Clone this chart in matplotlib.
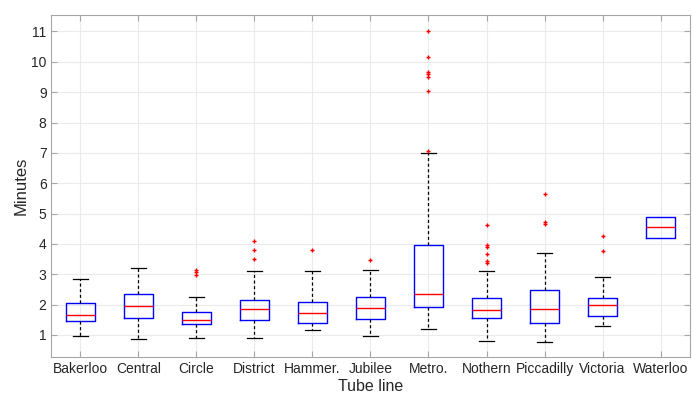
import matplotlib
matplotlib.use("Agg")
import matplotlib.pyplot as plt

plt.rcParams['font.family'] = ['Liberation Sans', 'DejaVu Sans']

lines = ['Bakerloo', 'Central', 'Circle', 'District', 'Hammer.', 'Jubilee',
         'Metro.', 'Nothern', 'Piccadilly', 'Victoria', 'Waterloo']
q1 = [1.47, 1.57, 1.35, 1.49, 1.38, 1.53, 1.91, 1.55, 1.38, 1.62, 4.20]
med = [1.65, 1.94, 1.48, 1.85, 1.73, 1.88, 2.34, 1.83, 1.87, 1.98, 4.55]
q3 = [2.06, 2.35, 1.77, 2.16, 2.09, 2.24, 3.95, 2.23, 2.47, 2.23, 4.88]
whislo = [0.96, 0.86, 0.90, 0.90, 1.15, 0.98, 1.20, 0.81, 0.78, 1.31, 4.20]
whishi = [2.83, 3.20, 2.24, 3.11, 3.12, 3.15, 7.00, 3.11, 3.71, 2.90, 4.88]
fliers = [
    [],
    [],
    [3.13, 3.09, 2.99],
    [4.10, 3.79, 3.49],
    [3.79],
    [3.47],
    [11.0, 10.15, 9.65, 9.60, 9.50, 9.05, 7.06],
    [4.62, 3.95, 3.89, 3.68, 3.44, 3.38],
    [5.65, 4.71, 4.66],
    [4.26, 3.77],
    [],
]

stats = []
for i in range(len(lines)):
    stats.append(dict(q1=q1[i], med=med[i], q3=q3[i], whislo=whislo[i],
                      whishi=whishi[i], fliers=fliers[i], label=lines[i]))

fig = plt.figure(figsize=(6.92, 3.95), dpi=100)
ax = fig.add_axes([0.0744, 0.096, 0.922, 0.865])

bp = ax.bxp(stats, widths=0.5,
            boxprops=dict(color='#0000ff', linewidth=1.0),
            medianprops=dict(color='#ff0000', linewidth=1.0),
            whiskerprops=dict(color='black', linewidth=0.9, linestyle=(0, (2.5, 2))),
            capprops=dict(color='black', linewidth=0.9),
            flierprops=dict(marker='+', markeredgecolor='#ff0000', markersize=3,
                            markeredgewidth=1.0))

# whiskers collapse onto the box when there is no spread outside it
for i in range(len(lines)):
    if whislo[i] == q1[i] and whishi[i] == q3[i]:
        for art in bp['caps'][2 * i:2 * i + 2] + bp['whiskers'][2 * i:2 * i + 2]:
            art.set_visible(False)

ax.set_xlim(0.5, 11.5)
ax.set_ylim(0.27, 11.53)
ax.set_yticks(range(1, 12))
ax.grid(True, color='#ebebeb', linewidth=0.8)
ax.set_axisbelow(True)
for s in ax.spines.values():
    s.set_color('#a6a6a6')
ax.tick_params(direction='in', top=True, right=True, colors='#a6a6a6',
               labelcolor='#262626', labelsize=10, length=4)
ax.set_xlabel('Tube line', fontsize=11.5, color='#262626', labelpad=2)
ax.set_ylabel('Minutes', fontsize=12, color='#262626', labelpad=2)

fig.savefig('out.png', dpi=100)
